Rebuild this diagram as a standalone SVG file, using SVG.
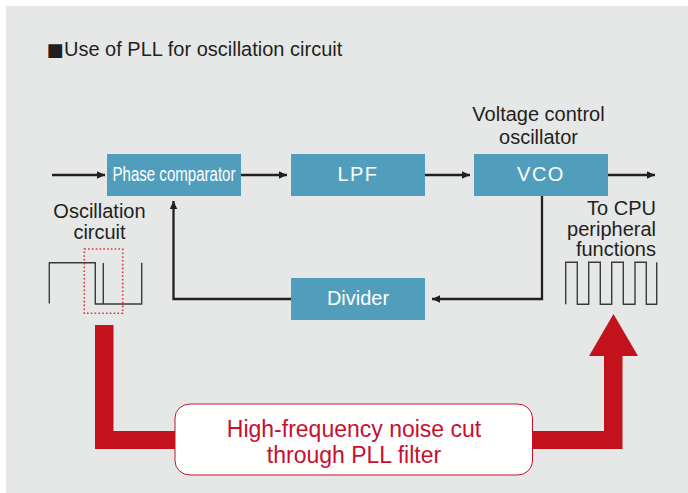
<svg xmlns="http://www.w3.org/2000/svg" width="688" height="493" viewBox="0 0 688 493">
  <style>
    text { font-family: "Liberation Sans", Arial, sans-serif; }
    .lbl { font-size: 20px; fill: #231f20; }
    .box { fill: #519ebc; }
    .btxt { font-size: 20px; fill: #ffffff; text-anchor: middle; }
    .conn { fill: none; stroke: #231f20; stroke-width: 2.3; }
    .wave { fill: none; stroke: #3a3a3a; stroke-width: 1.4; }
    .red { fill: #c4121c; }
    .note { font-size: 23px; fill: #c8102e; text-anchor: middle; }
  </style>
  <defs>
    <marker id="ah" markerUnits="userSpaceOnUse" markerWidth="9" markerHeight="8" refX="8" refY="3.75" orient="auto">
      <path d="M0,0 L8,3.75 L0,7.5 Z" fill="#231f20"/>
    </marker>
  </defs>

  <rect x="0" y="0" width="688" height="493" fill="#ffffff"/>
  <rect x="6" y="6" width="682" height="487" fill="#e6e8e7"/>

  <g id="title">
    <text x="46.5" y="56" class="lbl"><tspan style="font-family:'DejaVu Sans',sans-serif" font-size="18" y="55.5">■</tspan><tspan x="64" y="56">Use of PLL for oscillation circuit</tspan></text>
  </g>

  <g id="noise-path">
    <path class="red" d="M95,325 H113.5 V431 H604 V356 H589 L613.5,314 L638,356 H622.5 V449 H95 Z"/>
  </g>

  <g id="connectors">
    <line class="conn" x1="52" y1="175" x2="105" y2="175" marker-end="url(#ah)"/>
    <line class="conn" x1="241" y1="175" x2="287" y2="175" marker-end="url(#ah)"/>
    <line class="conn" x1="425" y1="175" x2="470" y2="175" marker-end="url(#ah)"/>
    <line class="conn" x1="608" y1="175" x2="655" y2="175" marker-end="url(#ah)"/>
    <polyline class="conn" points="542,196 542,299 432,299" marker-end="url(#ah)"/>
    <polyline class="conn" points="291,299 173.5,299 173.5,201" marker-end="url(#ah)"/>
  </g>

  <g id="phase-comparator">
    <rect class="box" x="107" y="154" width="134" height="42"/>
    <text class="btxt" x="174" y="181" font-size="19.5" textLength="123" lengthAdjust="spacingAndGlyphs">Phase comparator</text>
  </g>

  <g id="lpf">
    <rect class="box" x="291" y="154" width="134" height="42"/>
    <text class="btxt" x="358" y="181" letter-spacing="1.5">LPF</text>
  </g>

  <g id="vco">
    <rect class="box" x="474" y="154" width="134" height="42"/>
    <text class="btxt" x="541" y="181" letter-spacing="1.5">VCO</text>
    <text class="lbl" x="538.5" y="121" text-anchor="middle">Voltage control</text>
    <text class="lbl" x="538.5" y="144" text-anchor="middle">oscillator</text>
  </g>

  <g id="divider">
    <rect class="box" x="291" y="278" width="134" height="42"/>
    <text class="btxt" x="358" y="305">Divider</text>
  </g>

  <g id="oscillation-circuit">
    <text class="lbl" x="99.5" y="218" text-anchor="middle">Oscillation</text>
    <text class="lbl" x="99.5" y="239" text-anchor="middle">circuit</text>
    <path class="wave" d="M49.3,303.5 V262.7 H95.3 V304 H141.7 V262.7"/>
    <line class="wave" x1="103.3" y1="263" x2="103.3" y2="304"/>
    <rect x="84.3" y="249" width="38.4" height="64.3" fill="none" stroke="#e0303a" stroke-width="1.6" stroke-dasharray="1.6 2.2"/>
  </g>

  <g id="cpu-output">
    <text class="lbl" x="656" y="215" text-anchor="end">To CPU</text>
    <text class="lbl" x="656" y="236" text-anchor="end">peripheral</text>
    <text class="lbl" x="656" y="256" text-anchor="end">functions</text>
    <path class="wave" d="M565.7,304.3 V262.3 H577.3 V304.3 H588.7 V262.3 H600.3 V304.3 H611.7 V262.3 H623.3 V304.3 H635 V262.3 H646.3 V304.3 H656.7 V262.3"/>
  </g>

  <g id="noise-cut-label">
    <rect x="175" y="404" width="357.5" height="71" rx="15" ry="14" fill="#ffffff" stroke="#c8102e" stroke-width="1"/>
    <text class="note" x="354" y="437">High-frequency noise cut</text>
    <text class="note" x="354" y="463">through PLL filter</text>
  </g>
</svg>
